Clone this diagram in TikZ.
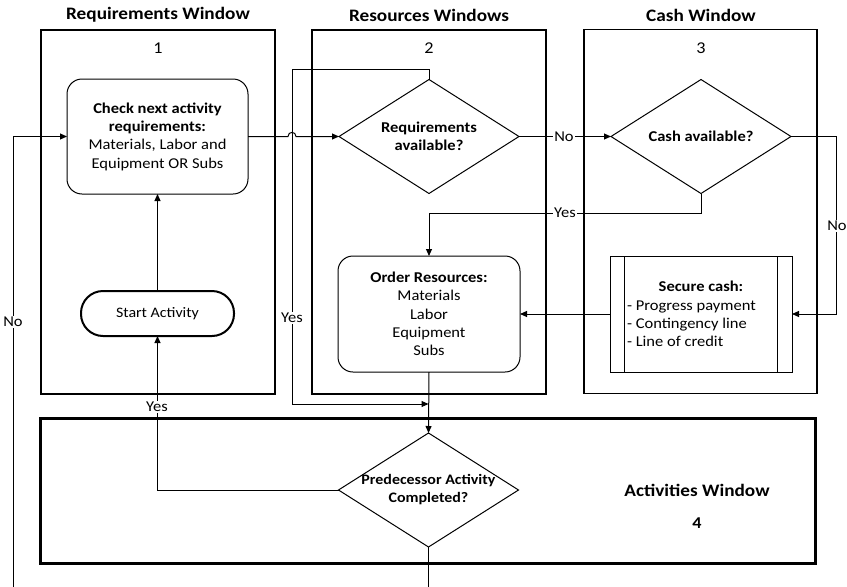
\documentclass[tikz,border=0pt]{standalone}
\usepackage{fontspec}
\setmainfont{Carlito}[FakeStretch=1.1]
\usetikzlibrary{arrows.meta,shapes.geometric}
\begin{document}
\begin{tikzpicture}[x=1pt,y=-1pt,
  line/.style={line width=1pt},
  arr/.style={line width=1pt,-{Triangle[length=7pt,width=6pt]}},
  window/.style={draw,line width=1.1pt,minimum width=234pt,minimum height=364pt,inner sep=0pt,outer sep=0pt},
  ttl/.style={font=\fontsize{17.5}{20}\selectfont\bfseries},
  num/.style={font=\fontsize{16.5}{19}\selectfont},
  txt/.style={font=\fontsize{15}{18.3}\selectfont,align=center},
  proc/.style={draw,line width=1pt,rounded corners=15pt,minimum width=181pt,minimum height=115pt,inner sep=0pt,outer sep=0pt,txt},
  decision/.style={draw,diamond,line width=1pt,minimum width=180pt,minimum height=114pt,inner sep=0pt,outer sep=0pt,aspect=1.6},
  terminal/.style={draw,line width=2pt,rounded corners=22pt,minimum width=153pt,minimum height=45pt,inner sep=0pt,outer sep=0pt,font=\fontsize{14.5}{17}\selectfont},
  lbl/.style={fill=white,inner sep=1pt,font=\fontsize{15}{17}\selectfont},
]
\useasboundingbox (0,0) rectangle (847,587);

% swim-lane windows
\node[window] (w1) at (158,212) {};
\node[window] (w2) at (429,212) {};
\node[window,minimum width=233pt] (w3) at (700.5,211.5) {};
\node[window,line width=3pt,minimum width=775pt,minimum height=145pt] (w4) at (427.5,490.5) {};

% window headings and numbers
\node[ttl] (t1) at (158,15) {Requirements Window};
\node[ttl] (t2) at (429,15) {Resources Windows};
\node[ttl] (t3) at (701,15) {Cash Window};
\node[num] (n1) at (158,48) {1};
\node[num] (n2) at (429,48) {2};
\node[num] (n3) at (701,48) {3};
\node[ttl] (t4) at (697,490) {Activities Window};
\node[ttl,font=\fontsize{16.5}{19}\selectfont\bfseries] (n4) at (697,523) {4};

% flowchart steps
\node[proc] (check) at (157.5,136.5)
  {\textbf{Check next activity}\\\textbf{requirements:}\\Materials, Labor and\\Equipment OR Subs};
\node[decision,label={[txt]center:{\textbf{Requirements}\\\textbf{available?}}}] (req) at (429,136.5) {};
\node[decision,label={[txt]center:{\textbf{Cash available?}}}] (cash) at (701,136.5) {};
\node[terminal] (start) at (157.5,313.5) {Start Activity};
\node[proc,minimum width=182pt,minimum height=116pt] (order) at (429,314)
  {\textbf{Order Resources:}\\Materials\\Labor\\Equipment\\Subs};
\node[draw,line width=1pt,minimum width=182pt,minimum height=116pt,inner sep=0pt,outer sep=0pt,txt,align=left] (secure) at (701,314)
  {\makebox[148pt]{\bfseries Secure cash:}\\- Progress payment\\- Contingency line\\- Line of credit};
\draw[line] ([xshift=14pt]secure.north west) -- ([xshift=14pt]secure.south west);
\draw[line] ([xshift=-15pt]secure.north east) -- ([xshift=-15pt]secure.south east);
\node[decision,label={[txt,font=\fontsize{14.5}{18}\selectfont]center:{\textbf{Predecessor Activity}\\\textbf{Completed?}}}] (pred) at (428.5,490) {};

% bend points
\coordinate (bl) at (13,587);
\coordinate (bd) at (428.5,587);
\coordinate (hopA) at (288,136.5);
\coordinate (hopB) at (296,136.5);
\coordinate (loopTL) at (292,69);
\coordinate (merge) at (428.5,404);
\coordinate (cashYes) at (429,213);
\coordinate (cashNo) at (836,314);

% connectors
\draw[arr] (bl) |- (check.west);
\draw[arr] (check.east) -- (hopA) .. controls (288,131) and (296,131) .. (hopB) -- (req.west);
\draw[arr] (req.north) |- (loopTL) |- (merge);
\draw[arr] (req.east) -- (cash.west);
\draw[arr] (cash.south) |- (cashYes) -- (order.north);
\draw[arr] (cash.east) -| (cashNo) -- (secure.east);
\draw[arr] (secure.west) -- (order.east);
\draw[arr] (order.south) -- (pred.north);
\draw[arr] (pred.west) -| (start.south);
\draw[arr] (start.north) -- (check.south);
\draw[line] (pred.south) -- (bd);

% connector labels
\node[lbl] (l1) at (13,322) {No};
\node[lbl] (l2) at (292,318) {Yes};
\node[lbl] (l3) at (564,136.5) {No};
\node[lbl] (l4) at (565,213) {Yes};
\node[lbl] (l5) at (837,226) {No};
\node[lbl] (l6) at (157,407) {Yes};
\end{tikzpicture}
\end{document}
